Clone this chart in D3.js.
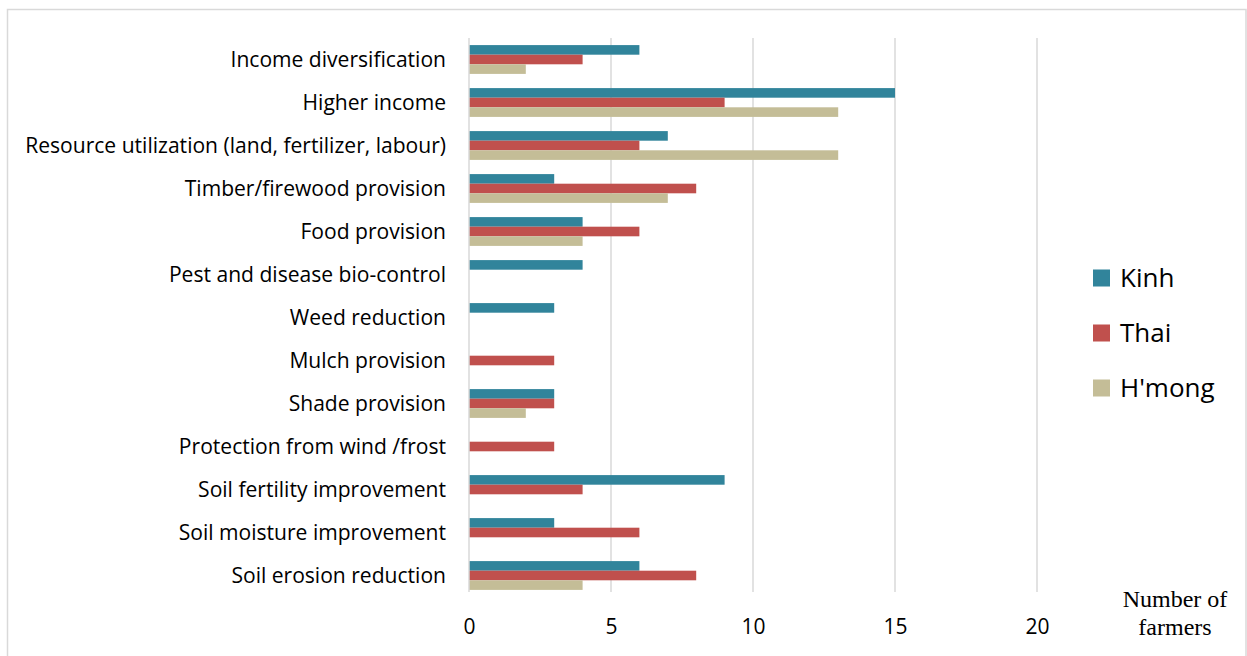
<!DOCTYPE html>
<html>
<head>
<meta charset="utf-8">
<script src="https://cdn.jsdelivr.net/npm/d3@7"></script>
<style>
  html, body { margin: 0; padding: 0; background: #fff; }
  svg { display: block; }
</style>
</head>
<body>
<svg id="chart" width="1247" height="656"></svg>
<script>
// Functions of shade trees reported by farmers, by ethnic group
const categories = [
  "Income diversification",
  "Higher income",
  "Resource utilization (land, fertilizer, labour)",
  "Timber/firewood provision",
  "Food provision",
  "Pest and disease bio-control",
  "Weed reduction",
  "Mulch provision",
  "Shade provision",
  "Protection from wind /frost",
  "Soil fertility improvement",
  "Soil moisture improvement",
  "Soil erosion reduction"
];
const seriesNames = ["Kinh", "Thai", "H'mong"];
const kinh   = [6, 15, 7, 3, 4, 4, 3, 0, 3, 0, 9, 3, 6];
const thai   = [4, 9, 6, 8, 6, 0, 0, 3, 3, 3, 4, 6, 8];
const hmong  = [2, 13, 13, 7, 4, 0, 0, 0, 2, 0, 0, 0, 4];
const xTicks = [0, 5, 10, 15, 20];
const colors = ["#31849B", "#C0504D", "#C4BD97"];

const values = [kinh, thai, hmong];
const svg = d3.select("#chart");
const labelFont = "'Open Sans', 'Noto Sans', sans-serif";

// chart frame
svg.append("rect")
  .attr("x", 7.5).attr("y", 9.5)
  .attr("width", 1238.5).attr("height", 660)
  .attr("fill", "none").attr("stroke", "#d9d9d9").attr("stroke-width", 1.5);

const plot = { left: 469, top: 38, bottom: 597 };
const x = d3.scaleLinear().domain([0, 20]).range([plot.left, plot.left + 568]);
const y = d3.scaleBand().domain(categories).range([plot.top, plot.bottom])
  .paddingInner(0.33).paddingOuter(0.165);
const ySub = d3.scaleBand().domain(seriesNames).range([0, y.bandwidth()]);

// vertical gridlines
svg.append("g").selectAll("line").data(xTicks.filter(d => d > 0)).join("line")
  .attr("x1", d => x(d)).attr("x2", d => x(d))
  .attr("y1", plot.top).attr("y2", 592)
  .attr("stroke", "#d9d9d9").attr("stroke-width", 1.5);

// bars
const rows = categories.map((c, i) => ({ c, vals: values.map(v => v[i]) }));
const groups = svg.append("g").selectAll("g").data(rows).join("g")
  .attr("transform", d => `translate(0,${y(d.c)})`);
groups.selectAll("rect")
  .data(d => d.vals.map((v, k) => ({ v, k })).filter(e => e.v > 0))
  .join("rect")
  .attr("x", x(0))
  .attr("y", e => ySub(seriesNames[e.k]))
  .attr("width", e => x(e.v) - x(0))
  .attr("height", ySub.bandwidth())
  .attr("fill", e => colors[e.k]);

// vertical baseline
svg.append("line")
  .attr("x1", x(0)).attr("x2", x(0))
  .attr("y1", plot.top).attr("y2", 592)
  .attr("stroke", "#d9d9d9").attr("stroke-width", 1.5);

// category labels, sized so the longest one spans the label column
const labels = svg.append("g").selectAll("text").data(categories).join("text")
  .attr("x", 446)
  .attr("y", d => y(d) + y.bandwidth() / 2)
  .attr("dy", "0.35em")
  .attr("text-anchor", "end")
  .attr("font-family", labelFont)
  .attr("font-size", 18)
  .attr("fill", "#000")
  .text(d => d);
const widest = d3.max(labels.nodes(), n => n.getComputedTextLength());
labels.attr("font-size", 18 * 421 / widest);

// x axis tick labels
const xAxis = d3.axisBottom(x).tickValues(xTicks).tickSize(0).tickPadding(0);
const ax = svg.append("g").attr("transform", "translate(0,619)").call(xAxis);
ax.select(".domain").remove();
ax.selectAll("text")
  .attr("font-family", labelFont)
  .attr("font-size", 21)
  .attr("fill", "#000")
  .attr("dy", "0.71em");

// axis title
const title = svg.append("text")
  .attr("x", 1175).attr("y", 607)
  .attr("text-anchor", "middle")
  .attr("font-family", "'Liberation Serif', 'Times New Roman', serif")
  .attr("font-size", 24)
  .attr("fill", "#000");
title.append("tspan").attr("x", 1175).attr("dy", 0).text("Number of");
title.append("tspan").attr("x", 1175).attr("dy", 28).text("farmers");

// legend
const legend = svg.append("g").selectAll("g").data(seriesNames).join("g")
  .attr("transform", (d, i) => `translate(1093,${278 + i * 55})`);
legend.append("rect")
  .attr("x", 0).attr("y", -8.5).attr("width", 17).attr("height", 17)
  .attr("fill", (d, i) => colors[i]);
legend.append("text")
  .attr("x", 27).attr("y", 0).attr("dy", "0.35em")
  .attr("font-family", labelFont)
  .attr("font-size", 26)
  .attr("fill", "#000")
  .text(d => d);
</script>
</body>
</html>
